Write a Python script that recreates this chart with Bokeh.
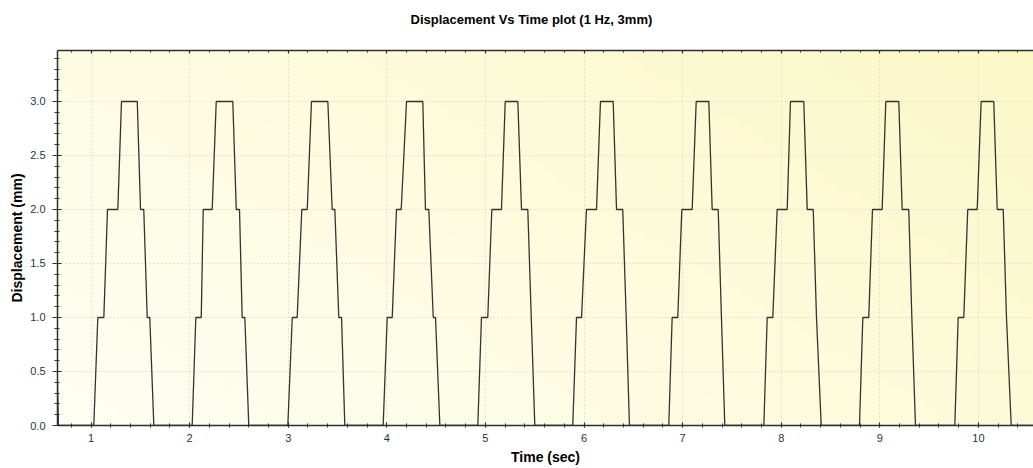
import numpy as np
from bokeh.plotting import figure
from bokeh.models import (Range1d, LinearAxis, SingleIntervalTicker, NumeralTickFormatter,
                          Grid, ColumnDataSource, CustomLabelingPolicy)
from bokeh.embed import file_html
from bokeh.resources import INLINE

# ---- data (time in s for each corner of every pulse) ----
levels_mm = [0.0, 1.0, 1.0, 2.0, 2.0, 3.0, 3.0, 2.0, 2.0, 1.0, 1.0, 0.0]

cycle0_t = [0.060, 0.101, 0.162, 0.199, 0.304, 0.341, 0.501, 0.534, 0.567, 0.602, 0.645, 0.669]
cycle1_t = [1.028, 1.069, 1.130, 1.167, 1.272, 1.309, 1.469, 1.502, 1.535, 1.570, 1.596, 1.637]
cycle2_t = [2.026, 2.063, 2.118, 2.138, 2.229, 2.270, 2.438, 2.473, 2.506, 2.533, 2.560, 2.600]
cycle3_t = [2.996, 3.041, 3.091, 3.138, 3.193, 3.236, 3.402, 3.446, 3.473, 3.513, 3.541, 3.574]
cycle4_t = [3.963, 4.004, 4.055, 4.098, 4.146, 4.200, 4.365, 4.392, 4.426, 4.471, 4.494, 4.538]
cycle5_t = [4.923, 4.960, 5.024, 5.065, 5.163, 5.201, 5.329, 5.366, 5.430, 5.465, 5.465, 5.501]
cycle6_t = [5.886, 5.924, 5.975, 6.025, 6.127, 6.167, 6.296, 6.330, 6.393, 6.428, 6.428, 6.461]
cycle7_t = [6.860, 6.894, 6.951, 6.992, 7.097, 7.138, 7.266, 7.300, 7.361, 7.394, 7.394, 7.428]
cycle8_t = [7.824, 7.858, 7.915, 7.959, 8.061, 8.094, 8.229, 8.264, 8.325, 8.358, 8.358, 8.406]
cycle9_t = [8.794, 8.828, 8.888, 8.926, 9.024, 9.061, 9.193, 9.227, 9.294, 9.325, 9.325, 9.362]
cycle10_t = [9.761, 9.795, 9.852, 9.892, 9.988, 10.028, 10.156, 10.191, 10.252, 10.285, 10.285, 10.333]
tail_t = [10.60]
tail_mm = [0.0]

x_tick_labels = ["1", "2", "3", "4", "5", "6", "7", "8", "9", "10"]
y_tick_labels = ["0.0", "0.5", "1.0", "1.5", "2.0", "2.5", "3.0"]
title_text = "Displacement Vs Time plot (1 Hz, 3mm)"

cycles = [cycle0_t, cycle1_t, cycle2_t, cycle3_t, cycle4_t, cycle5_t,
          cycle6_t, cycle7_t, cycle8_t, cycle9_t, cycle10_t]
time_s, disp_mm = [], []
for ct in cycles:
    time_s += ct
    disp_mm += levels_mm
time_s += tail_t
disp_mm += tail_mm

X0, X1 = 0.660, 10.559
Y0, Y1 = 0.0, 3.472

p = figure(width=1033, height=468, output_backend="svg", toolbar_location=None,
           x_range=Range1d(X0, X1), y_range=Range1d(Y0, Y1),
           x_axis_type=None, y_axis_type=None,
           min_border_left=57, min_border_right=0, min_border_top=50, min_border_bottom=43)
p.outline_line_color = None
p.background_fill_color = "#fefee8"
p.border_fill_color = "white"

# background gradient of the plotting area
gw, gh = 80, 40
u = np.linspace(0, 1, gw)[None, :]
v = np.linspace(0, 1, gh)[:, None]
s = np.clip(0.62 * u + 0.38 * v, 0, 1)
c0 = np.array([255, 255, 243])
c1 = np.array([251, 248, 200])
img = np.empty((gh, gw), dtype=np.uint32)
view = img.view(dtype=np.uint8).reshape((gh, gw, 4))
for k in range(3):
    view[:, :, k] = (c0[k] + (c1[k] - c0[k]) * s).astype(np.uint8)
view[:, :, 3] = 255
p.image_rgba(image=[img], x=X0, y=Y0, dw=X1 - X0, dh=Y1 - Y0, level="image")

xt = SingleIntervalTicker(interval=1, num_minor_ticks=5)
yt = SingleIntervalTicker(interval=0.5, num_minor_ticks=5)

label_color = "#263545"
axis_color = "#2e2e2e"

xaxis = LinearAxis(ticker=xt, axis_label="Time (sec)")
xaxis.major_label_overrides = {i + 1: lab for i, lab in enumerate(x_tick_labels)}
yaxis = LinearAxis(ticker=yt, axis_label="Displacement (mm)",
                   formatter=NumeralTickFormatter(format="0.0"))
yaxis.major_label_overrides = {i * 0.5: lab for i, lab in enumerate(y_tick_labels)}
topaxis = LinearAxis(ticker=xt,
                     major_label_policy=CustomLabelingPolicy(code="return new Set()"))

for ax in (xaxis, yaxis, topaxis):
    ax.axis_line_color = axis_color
    ax.axis_line_width = 1.5
    ax.major_tick_line_color = axis_color
    ax.minor_tick_line_color = axis_color
    ax.major_tick_line_width = 1.2
    ax.minor_tick_line_width = 1
    ax.major_label_text_font = "Liberation Sans"
    ax.major_label_text_font_size = "11px"
    ax.major_label_text_color = label_color
    ax.axis_label_text_font = "Liberation Sans"
    ax.axis_label_text_font_size = "14px"
    ax.axis_label_text_font_style = "bold"
    ax.axis_label_text_color = "black"

xaxis.major_tick_in, xaxis.major_tick_out = 3, 2
xaxis.minor_tick_in, xaxis.minor_tick_out = 2, 2
xaxis.major_label_standoff = 6
xaxis.axis_label_standoff = 4

yaxis.major_tick_in, yaxis.major_tick_out = 4, 5
yaxis.minor_tick_in, yaxis.minor_tick_out = 2, 3
yaxis.major_label_standoff = 7
yaxis.axis_label_standoff = 2

# top frame edge with inward ticks; its undrawn label band spaces the title
topaxis.major_tick_in, topaxis.major_tick_out = 3, 0
topaxis.minor_tick_in, topaxis.minor_tick_out = 2, 0
topaxis.major_label_standoff = 12

p.add_layout(xaxis, "below")
p.add_layout(yaxis, "left")
p.add_layout(topaxis, "above")

for dim, tk in ((0, xt), (1, yt)):
    g = Grid(dimension=dim, ticker=tk)
    g.grid_line_color = "#cacaca"
    g.grid_line_dash = "1 3"
    g.grid_line_width = 1
    p.add_layout(g)

src = ColumnDataSource(data=dict(t=time_s, d=disp_mm))
p.line("t", "d", source=src, line_color="#333333", line_width=1.3)

p.title.text = title_text
p.title.text_font = "Liberation Sans"
p.title.text_font_size = "13px"
p.title.text_font_style = "bold"
p.title.text_color = "black"
p.title.align = "left"
p.title.offset = 353
p.title.vertical_align = "bottom"
p.title.standoff = 2

open("out.html", "w").write(file_html(p, INLINE))
